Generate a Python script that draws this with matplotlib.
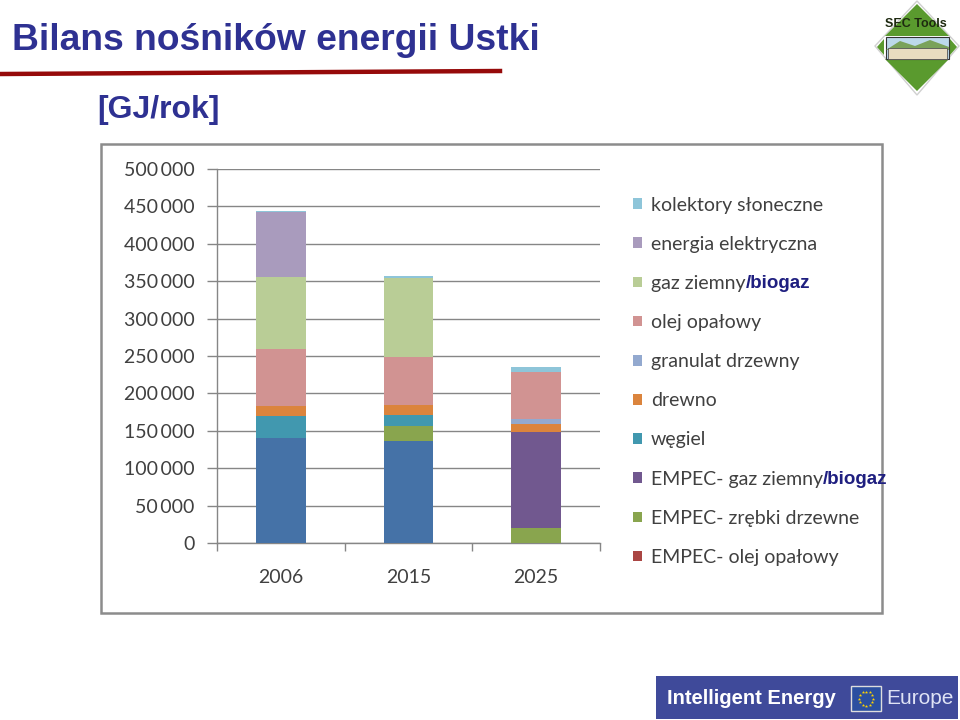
import matplotlib
matplotlib.use("Agg")
import matplotlib.pyplot as plt
from matplotlib.patches import Rectangle, Polygon
from matplotlib.lines import Line2D
import numpy as np

# Data [GJ/rok]
years = ["2006", "2015", "2025"]
series_names = [
    "",  # bottom dark-blue series, its legend entry is cut off in the reference
    "EMPEC- olej opałowy",
    "EMPEC- zrębki drzewne",
    "EMPEC- gaz ziemny",
    "węgiel",
    "drewno",
    "granulat drzewny",
    "olej opałowy",
    "gaz ziemny",
    "energia elektryczna",
    "kolektory słoneczne",
]
empec_wegiel = [140000, 136000, 0]
empec_olej = [0, 0, 0]
empec_zrebki = [0, 21000, 20000]
empec_gaz = [0, 0, 129000]
wegiel = [30000, 14000, 0]
drewno = [13500, 14000, 10000]
granulat = [0, 0, 6700]
olej = [76000, 63700, 62800]
gaz = [96000, 105000, 0]
energia = [86500, 0, 0]
kolektory = [1500, 2700, 6200]

values = [empec_wegiel, empec_olej, empec_zrebki, empec_gaz, wegiel, drewno,
          granulat, olej, gaz, energia, kolektory]
colors = ["#4572a7", "#aa4643", "#89a54e", "#71588f", "#4198af", "#db843d",
          "#93a9cf", "#d19392", "#b9cd96", "#a99bbd", "#8ec5d9"]
biogaz_series = ["EMPEC- gaz ziemny", "gaz ziemny"]
yticks = np.arange(0, 500001, 50000)

W, H = 960, 720
fig = plt.figure(figsize=(9.6, 7.2), dpi=100)
fig.patch.set_facecolor("white")

def fx(px):
    return px / W

def fy(py):
    return 1 - py / H

# header
navy = "#2e3192"
fig.text(fx(12), fy(50), "Bilans nośników energii Ustki", family="Liberation Sans",
         weight="bold", fontsize=26.8, color=navy, ha="left", va="baseline")
fig.add_artist(Line2D([fx(2), fx(500)], [fy(74), fy(71)], color="#960a0a", lw=3.2))
fig.text(fx(97), fy(118), "[GJ/rok]", family="Liberation Sans",
         weight="bold", fontsize=23, color=navy, ha="left", va="baseline")

# chart frame
fig.add_artist(Rectangle((fx(101), fy(613)), fx(882) - fx(101), fy(144) - fy(613),
                         transform=fig.transFigure, fill=False, ec="#8c8c8c", lw=1.8))

# plot area
ax = fig.add_axes([fx(217), fy(543), fx(600) - fx(217), fy(169) - fy(543)])
x = np.arange(len(years))
bottom = np.zeros(len(years))
for name, vals, c in zip(series_names, values, colors):
    ax.bar(x, vals, width=0.39, bottom=bottom, color=c, label=name, zorder=3)
    bottom += np.array(vals)

ax.set_xlim(-0.5, 2.5)
ax.set_ylim(0, 500000)
ax.set_yticks(yticks)
ax.set_yticklabels([f"{int(v):,}".replace(",", "\u2009") for v in yticks])
ax.set_xticks(x)
ax.set_xticklabels(years)
ax.set_xticks([-0.5, 0.5, 1.5, 2.5], minor=True)
ax.tick_params(axis="x", which="major", length=0, pad=19)
ax.tick_params(axis="x", which="minor", length=6, color="#868686", width=1)
ax.tick_params(axis="y", length=7, color="#868686", width=1, pad=9)
ax.tick_params(labelsize=14, labelcolor="#404040")
for lab in ax.get_xticklabels() + ax.get_yticklabels():
    lab.set_family("Lato")
ax.grid(axis="y", color="#868686", lw=1, zorder=0)
for s in ["top", "right"]:
    ax.spines[s].set_visible(False)
for s in ["left", "bottom"]:
    ax.spines[s].set_color("#868686")
    ax.spines[s].set_linewidth(1)

# legend (reversed stack order, bottom series has no entry)
handles, labels = ax.get_legend_handles_labels()
pairs = [(h, l) for h, l in zip(handles, labels) if l][::-1]
leg = fig.legend([p[0] for p in pairs], [p[1] for p in pairs], loc="upper left",
                 bbox_to_anchor=(fx(633), fy(196.5)), frameon=False, borderpad=0,
                 borderaxespad=0, handlelength=0.47, handleheight=0.47,
                 handletextpad=0.46, labelspacing=1.14,
                 prop={"family": "Lato", "size": 14})
for t in leg.get_texts():
    t.set_color("#404040")

fig.canvas.draw()
renderer = fig.canvas.get_renderer()
inv = fig.transFigure.inverted()
for t in leg.get_texts():
    if t.get_text() in biogaz_series:
        bb = t.get_window_extent(renderer)
        (x1, y0), (_, y1) = inv.transform([(bb.x1, bb.y0), (bb.x1, bb.y1)])
        fig.text(x1, (y0 + y1) / 2, "/biogaz", family="Liberation Sans", weight="bold",
                 fontsize=13.5, color="#1f1f80", ha="left", va="center")

# SEC Tools badge (top right)
green = "#5a9a2e"
def poly(pts, **kw):
    fig.add_artist(Polygon([(fx(a), fy(b)) for a, b in pts], closed=True,
                           transform=fig.transFigure, **kw))

poly([(917, 1), (959, 46), (917, 95), (875, 46)], fc="white", ec="#d0d0d0", lw=1)
poly([(917, 4), (949, 36), (885, 36)], fc=green, ec="none")
poly([(885, 59), (949, 59), (917, 91)], fc=green, ec="none")
poly([(877, 47), (884, 39), (884, 55)], fc=green, ec="none")
poly([(957, 47), (950, 39), (950, 55)], fc=green, ec="none")
fig.add_artist(Rectangle((fx(886), fy(59)), fx(63), fy(37) - fy(59), transform=fig.transFigure,
                         fc="#bcd9ea", ec="#333333", lw=0.8))
poly([(886, 50), (900, 41), (915, 46), (930, 40), (949, 47), (949, 50)], fc="#7aa25a", ec="none")
fig.add_artist(Rectangle((fx(888), fy(59)), fx(59), fy(48) - fy(59), transform=fig.transFigure,
                         fc="#e8dcc0", ec="#555555", lw=0.6))
fig.text(fx(916), fy(24), "SEC Tools", family="Liberation Sans", weight="bold",
         fontsize=9, color="#1e2a10", ha="center", va="center")

# Intelligent Energy Europe banner (bottom right)
fig.add_artist(Rectangle((fx(656), fy(719)), fx(302), fy(676) - fy(719), transform=fig.transFigure,
                         fc="#3f4a9a", ec="none"))
fig.text(fx(667), fy(698), "Intelligent Energy", family="Liberation Sans", weight="bold",
         fontsize=14.5, color="white", ha="left", va="center")
fig.add_artist(Rectangle((fx(851), fy(711)), fx(30), fy(686) - fy(711), transform=fig.transFigure,
                         fc="#2b4fa0", ec="#dddddd", lw=1))
ang = np.linspace(0, 2 * np.pi, 12, endpoint=False)
fig.add_artist(Line2D(fx(866) + fx(7) * np.cos(ang), fy(698.5) + (7 / H) * np.sin(ang),
                      ls="none", marker="*", ms=2.5, color="#ffd500", mew=0))
fig.text(fx(886), fy(698), "Europe", family="Liberation Sans", fontsize=15,
         color="#dfe3f5", ha="left", va="center")

fig.savefig("out.png", dpi=100, facecolor="white")
